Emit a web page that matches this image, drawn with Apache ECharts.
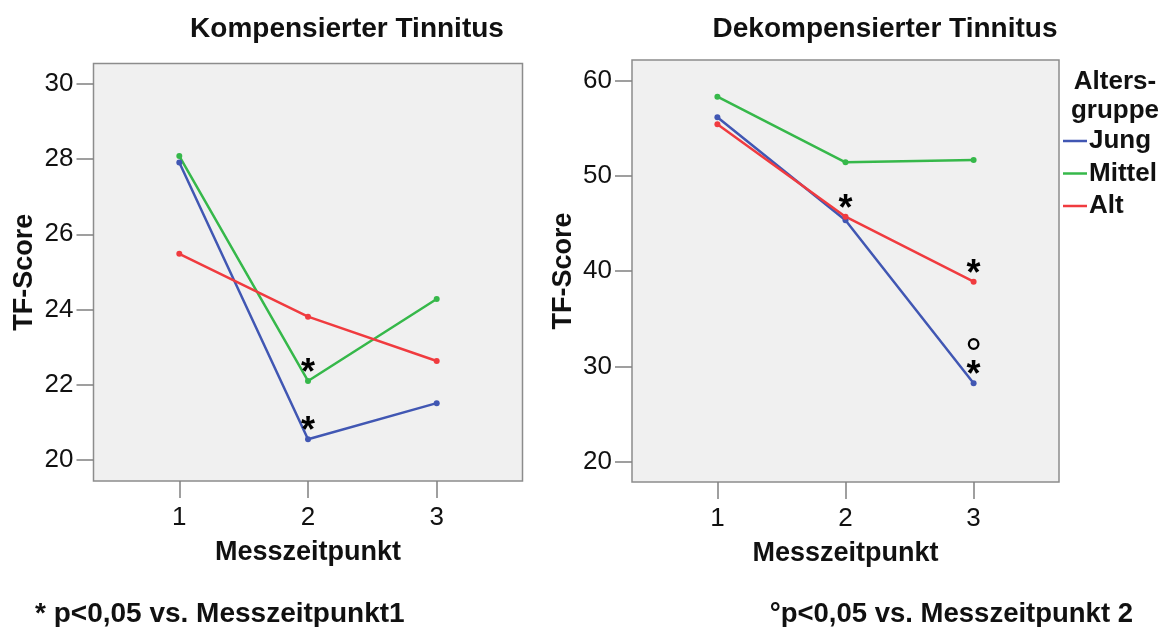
<!DOCTYPE html>
<html>
<head>
<meta charset="utf-8">
<script src="https://cdn.jsdelivr.net/npm/echarts@6/dist/echarts.min.js"></script>
<style>
html,body{margin:0;padding:0;background:#fff;}
#chart{width:1165px;height:627px;}
</style>
</head>
<body>
<div id="chart"></div>
<script>
// ---- data ----
var categories = [1, 2, 3];               // Messzeitpunkt
var groups = ['Jung', 'Mittel', 'Alt'];    // Altersgruppe
var kompJung   = [27.91, 20.55, 21.51];
var kompMittel = [28.08, 22.10, 24.28];
var kompAlt    = [25.48, 23.81, 22.63];
var dekoJung   = [56.16, 45.34, 28.23];
var dekoMittel = [58.32, 51.43, 51.67];
var dekoAlt    = [55.42, 45.72, 38.90];
var kompTicks = [20, 22, 24, 26, 28, 30];
var dekoTicks = [20, 30, 40, 50, 60];
var xTicks = [1, 2, 3];
// significance marks: [panel, group, point index, text]
var marks = [
  [0, 'Mittel', 1, '*'],
  [0, 'Jung',   1, '*'],
  [1, 'Alt',    1, '*'],
  [1, 'Alt',    2, '*'],
  [1, 'Jung',   2, '°*']
];

var colors = {Jung: '#4157b3', Mittel: '#36b84a', Alt: '#f03b3f'};
var FONT = "'Liberation Sans', Arial, sans-serif";
var TXT = '#111';

function buildData(panel, name, vals) {
  return vals.map(function (v, i) {
    var item = {value: [categories[i], v]};
    marks.forEach(function (m) {
      if (m[0] === panel && m[1] === name && m[2] === i) {
        var rich = m[3].length > 1;
        item.label = {
          show: true,
          position: 'inside',
          offset: rich ? [0, -16] : [0, -7],
          formatter: rich ? '{d|°}\n{a|*}' : '{a|*}',
          rich: {
            a: {fontSize: 36, fontWeight: 'bold', fontFamily: FONT, color: '#000', lineHeight: 22},
            d: {fontSize: 42, fontWeight: 'normal', fontFamily: FONT, color: '#000', lineHeight: 18}
          }
        };
      }
    });
    return item;
  });
}

function mkSeries(panel, name, vals) {
  return {
    type: 'line', name: name, xAxisIndex: panel, yAxisIndex: panel,
    data: buildData(panel, name, vals),
    symbol: 'circle', symbolSize: 6,
    lineStyle: {width: 2.5, color: colors[name]},
    itemStyle: {color: colors[name]},
    emphasis: {disabled: true},
    z: 3
  };
}

function xAxis(idx) {
  return {
    type: 'value', gridIndex: idx, min: 1 / 3, max: 11 / 3,
    name: 'Messzeitpunkt', nameLocation: 'middle', nameGap: 58,
    nameTextStyle: {fontSize: 27, fontWeight: 'bold', fontFamily: FONT, color: TXT},
    axisLine: {show: false},
    splitLine: {show: false},
    axisTick: {show: true, customValues: xTicks, length: 17, lineStyle: {color: '#808080', width: 1.5}},
    axisLabel: {customValues: xTicks, fontSize: 26, fontFamily: FONT, color: TXT, margin: 24}
  };
}

function yAxis(idx, min, max, ticks) {
  return {
    type: 'value', gridIndex: idx, min: min, max: max,
    name: 'TF-Score', nameLocation: 'middle', nameGap: 55, nameRotate: 90,
    nameTextStyle: {fontSize: 27, fontWeight: 'bold', fontFamily: FONT, color: TXT},
    axisLine: {show: false},
    splitLine: {show: false},
    axisTick: {show: true, customValues: ticks, length: 17, lineStyle: {color: '#808080', width: 1.5}},
    axisLabel: {customValues: ticks, fontSize: 26, fontFamily: FONT, color: TXT, margin: 20}
  };
}

var chart = echarts.init(document.getElementById('chart'), null, {renderer: 'canvas'});
chart.setOption({
  animation: false,
  backgroundColor: '#fff',
  title: [
    {text: 'Kompensierter Tinnitus', left: 342, top: 10, textAlign: 'center',
     textStyle: {fontSize: 28, fontWeight: 'bold', fontFamily: FONT, color: TXT}},
    {text: 'Dekompensierter Tinnitus', left: 880, top: 10, textAlign: 'center',
     textStyle: {fontSize: 28, fontWeight: 'bold', fontFamily: FONT, color: TXT}},
    {text: 'Alters-\ngruppe', left: 1110, top: 62, textAlign: 'center',
     textStyle: {fontSize: 26, fontWeight: 'bold', fontFamily: FONT, color: TXT, lineHeight: 29}},
    {text: '* p<0,05 vs. Messzeitpunkt1', left: 30, top: 595,
     textStyle: {fontSize: 28, fontWeight: 'bold', fontFamily: FONT, color: TXT}},
    {text: '°p<0,05 vs. Messzeitpunkt 2', right: 27, top: 595,
     textStyle: {fontSize: 27.5, fontWeight: 'bold', fontFamily: FONT, color: TXT}}
  ],
  legend: {
    orient: 'vertical', left: 1063, top: 128, padding: 0,
    data: groups.map(function (g) { return {name: g, icon: 'rect'}; }),
    itemWidth: 24, itemHeight: 2.5, itemGap: 6.5,
    selectedMode: false,
    textStyle: {fontSize: 26, fontWeight: 'bold', fontFamily: FONT, color: TXT, padding: [0, 0, 0, -3]}
  },
  grid: [
    {left: 93.5, top: 63.5, width: 429, height: 417.5, show: true,
     backgroundColor: '#f0f0f0', borderColor: '#8c8c8c', borderWidth: 1.5},
    {left: 632, top: 60, width: 427, height: 422, show: true,
     backgroundColor: '#f0f0f0', borderColor: '#8c8c8c', borderWidth: 1.5}
  ],
  xAxis: [xAxis(0), xAxis(1)],
  yAxis: [yAxis(0, 19.44, 30.54, kompTicks), yAxis(1, 17.87, 62.17, dekoTicks)],
  series: [
    mkSeries(0, 'Jung', kompJung),
    mkSeries(0, 'Mittel', kompMittel),
    mkSeries(0, 'Alt', kompAlt),
    mkSeries(1, 'Jung', dekoJung),
    mkSeries(1, 'Mittel', dekoMittel),
    mkSeries(1, 'Alt', dekoAlt)
  ]
});
</script>
</body>
</html>
